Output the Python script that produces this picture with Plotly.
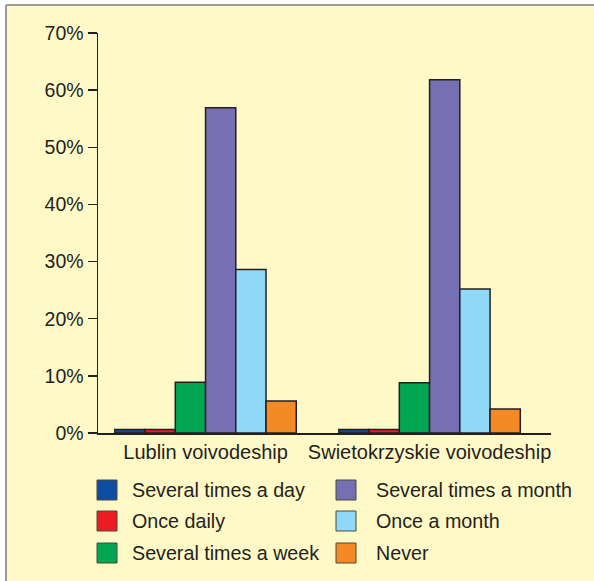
import plotly.graph_objects as go

categories = ["Lublin voivodeship", "Swietokrzyskie voivodeship"]
series_names = ["Several times a day", "Once daily", "Several times a week",
                "Several times a month", "Once a month", "Never"]
several_times_a_day = [0.6, 0.6]
once_daily = [0.6, 0.6]
several_times_a_week = [8.9, 8.8]
several_times_a_month = [56.9, 61.8]
once_a_month = [28.6, 25.2]
never = [5.6, 4.2]
y_ticks = [0, 10, 20, 30, 40, 50, 60, 70]
y_tick_labels = ["0%", "10%", "20%", "30%", "40%", "50%", "60%", "70%"]

series_values = [several_times_a_day, once_daily, several_times_a_week,
                 several_times_a_month, once_a_month, never]
colors = ["#0E4DA4", "#ED1C24", "#00A651", "#7670B3", "#8FD8F8", "#F58A24"]

W, H = 594, 581
ML, MR, MT, MB = 98, 43, 33, 148
PW = W - ML - MR
PH = H - MT - MB

def px(x):
    return (x - ML) / PW

def py(y):
    return (H - MB - y) / PH

FONT = "Liberation Sans"
TXT = "#231F20"

fig = go.Figure()
for name, vals, col in zip(series_names, series_values, colors):
    fig.add_trace(go.Bar(
        x=categories, y=vals, name=name,
        marker=dict(color=col, line=dict(color=TXT, width=1.5)),
        showlegend=False, hoverinfo="skip",
    ))

shapes = [
    dict(type="rect", xref="paper", yref="paper", layer="below",
         x0=px(6), x1=px(W + 5), y0=py(5), y1=py(H + 5),
         fillcolor="#FFF9C7", line=dict(width=0)),
    dict(type="line", xref="paper", yref="paper", layer="below",
         x0=px(6), x1=px(6), y0=py(5), y1=py(H + 5),
         line=dict(color="#9A9A9A", width=2)),
    dict(type="line", xref="paper", yref="paper", layer="below",
         x0=px(6), x1=px(W + 5), y0=py(5), y1=py(5),
         line=dict(color="#9A9A9A", width=2)),
]
annotations = []
col_sq_x = [97, 336]
col_txt_x = [130, 374]
row_cy = [490, 521, 553]
for i, (name, col) in enumerate(zip(series_names, colors)):
    c, r = divmod(i, 3)
    x0 = col_sq_x[c]
    cy = row_cy[r]
    shapes.append(dict(type="rect", xref="paper", yref="paper",
                       x0=px(x0), x1=px(x0 + 20), y0=py(cy - 10), y1=py(cy + 10),
                       fillcolor=col, line=dict(color="#4a4a3a", width=1)))
    annotations.append(dict(xref="paper", yref="paper", x=px(col_txt_x[c]), y=py(cy),
                            xanchor="left", yanchor="middle", showarrow=False,
                            text=name, font=dict(family=FONT, size=19.7, color=TXT)))

fig.update_layout(
    width=W, height=H,
    margin=dict(l=ML, r=MR, t=MT, b=MB, pad=0),
    paper_bgcolor="white", plot_bgcolor="rgba(0,0,0,0)",
    barmode="group", bargap=0.19, bargroupgap=0,
    showlegend=False, hovermode=False,
    shapes=shapes, annotations=annotations,
    font=dict(family=FONT, size=19.5, color=TXT),
    xaxis=dict(type="category", range=[-0.48, 1.542], showline=True,
               linecolor=TXT, linewidth=1.5, ticks="", showgrid=False,
               zeroline=False, tickfont=dict(family=FONT, size=20, color=TXT)),
    yaxis=dict(range=[0, 70], tickmode="array", tickvals=y_ticks, ticktext=y_tick_labels,
               showline=True, linecolor=TXT, linewidth=1.5, ticks="outside", ticklen=9,
               tickcolor=TXT, tickwidth=1.5, showgrid=False, zeroline=False,
               ticklabelstandoff=0,
               tickfont=dict(family=FONT, size=19.5, color=TXT)),
)

fig.write_html(
    "out.html",
    config={"displayModeBar": False, "staticPlot": True},
    post_script=("document.body.style.margin='0';document.body.style.overflow='hidden';"
                 "document.documentElement.style.overflow='hidden';"),
)
